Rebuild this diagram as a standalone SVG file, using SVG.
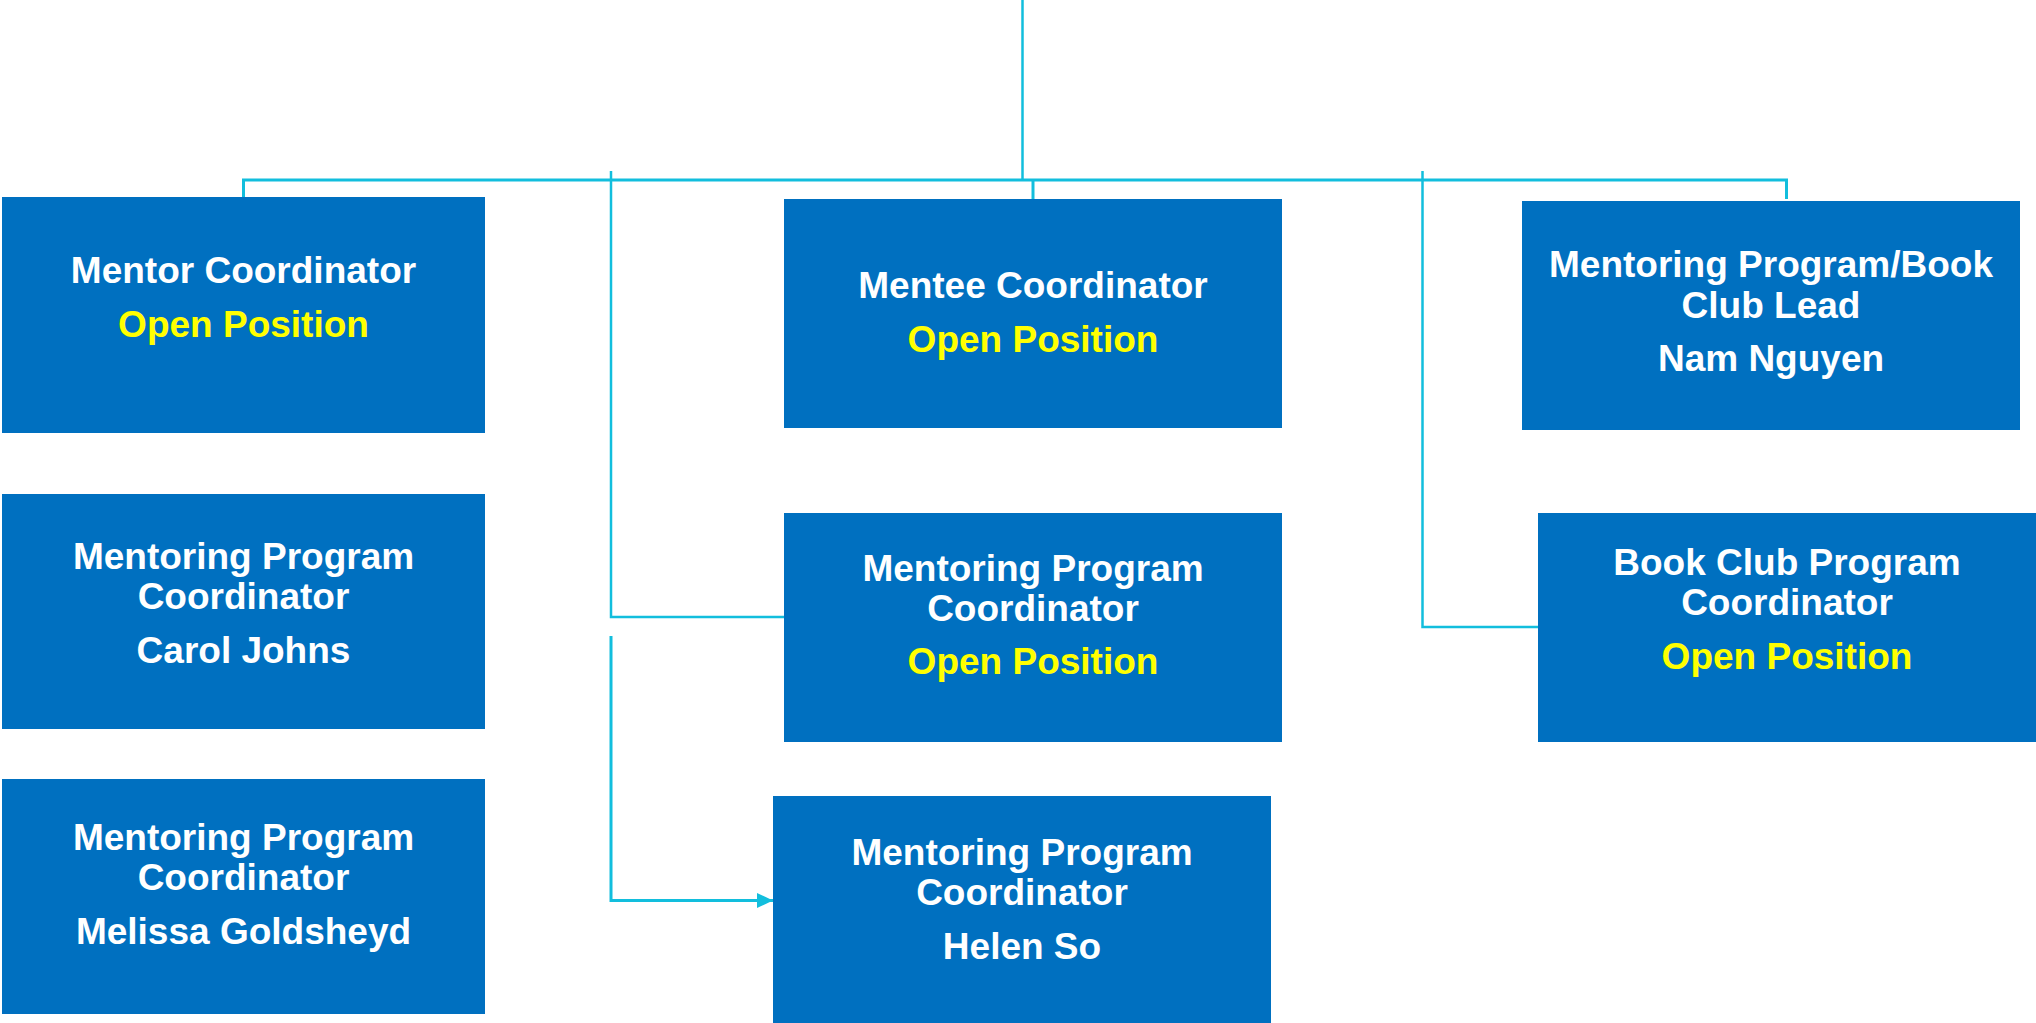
<svg xmlns="http://www.w3.org/2000/svg" width="2036" height="1023" viewBox="0 0 2036 1023">
<style>
.box{fill:#0070C0}
.t{font-family:"Liberation Sans",Arial,sans-serif;font-weight:bold;font-size:37px;text-anchor:middle;fill:#FFFFFF}
.y{fill:#FFFF00}
.c{fill:none;stroke:#12BEDD;stroke-width:3}
.c2{fill:none;stroke:#12BEDD;stroke-width:2.5}
</style>
<defs>
<marker id="arr" markerWidth="16" markerHeight="15" refX="16" refY="7.5" orient="auto" markerUnits="userSpaceOnUse">
<path d="M0,0 L16,7.5 L0,15 Z" fill="#12BEDD"/>
</marker>
</defs>
<rect width="2036" height="1023" fill="#FFFFFF"/>
<g id="connectors">
<line class="c2" x1="1022.5" y1="0" x2="1022.5" y2="180"/>
<polyline class="c" points="243.5,197 243.5,180 1786.5,180 1786.5,199"/>
<line class="c" x1="1033" y1="180" x2="1033" y2="199"/>
<polyline class="c2" points="611,171 611,617 784,617"/>
<polyline class="c" points="611,636 611,900.5 773,900.5" marker-end="url(#arr)"/>
<polyline class="c2" points="1422.5,171 1422.5,627 1538,627"/>
</g>
<g id="mentor-coordinator">
<rect class="box" x="2" y="197" width="483" height="236"/>
<text class="t" x="243.5" y="283">Mentor Coordinator</text>
<text class="t y" x="243.5" y="337">Open Position</text>
</g>
<g id="carol-johns">
<rect class="box" x="2" y="494" width="483" height="235"/>
<text class="t" x="243.5" y="569">Mentoring Program</text>
<text class="t" x="243.5" y="609">Coordinator</text>
<text class="t" x="243.5" y="663">Carol Johns</text>
</g>
<g id="melissa-goldsheyd">
<rect class="box" x="2" y="779" width="483" height="235"/>
<text class="t" x="243.5" y="850">Mentoring Program</text>
<text class="t" x="243.5" y="890">Coordinator</text>
<text class="t" x="243.5" y="944">Melissa Goldsheyd</text>
</g>
<g id="mentee-coordinator">
<rect class="box" x="784" y="199" width="498" height="229"/>
<text class="t" x="1033" y="298">Mentee Coordinator</text>
<text class="t y" x="1033" y="352">Open Position</text>
</g>
<g id="mentoring-coordinator-open">
<rect class="box" x="784" y="513" width="498" height="229"/>
<text class="t" x="1033" y="581">Mentoring Program</text>
<text class="t" x="1033" y="621">Coordinator</text>
<text class="t y" x="1033" y="674">Open Position</text>
</g>
<g id="helen-so">
<rect class="box" x="773" y="796" width="498" height="227"/>
<text class="t" x="1022" y="865">Mentoring Program</text>
<text class="t" x="1022" y="905">Coordinator</text>
<text class="t" x="1022" y="959">Helen So</text>
</g>
<g id="book-club-lead">
<rect class="box" x="1522" y="201" width="498" height="229"/>
<text class="t" x="1771" y="277">Mentoring Program/Book</text>
<text class="t" x="1771" y="318">Club Lead</text>
<text class="t" x="1771" y="371">Nam Nguyen</text>
</g>
<g id="book-club-coordinator">
<rect class="box" x="1538" y="513" width="498" height="229"/>
<text class="t" x="1787" y="575">Book Club Program</text>
<text class="t" x="1787" y="615">Coordinator</text>
<text class="t y" x="1787" y="669">Open Position</text>
</g>
</svg>
